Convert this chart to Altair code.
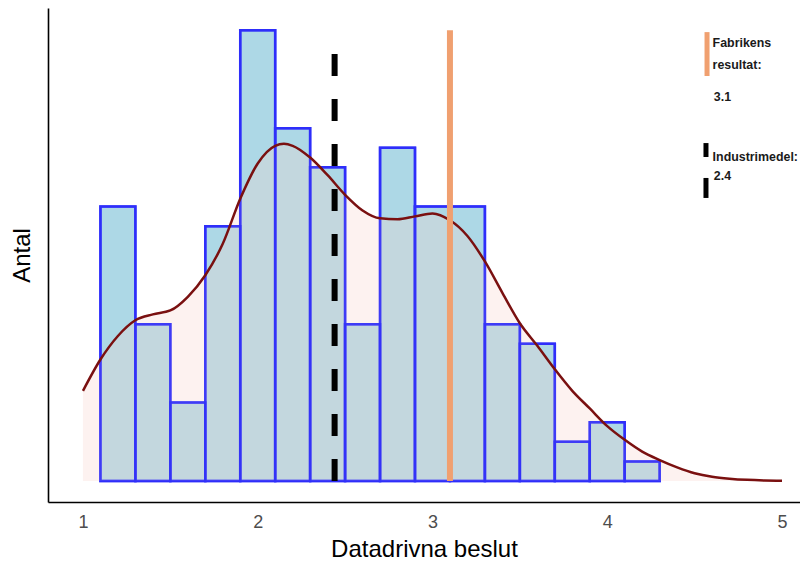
import altair as alt
import pandas as pd

# Histogram bins (start of each 0.2-wide bin) and counts
bin_start = [1.1, 1.3, 1.5, 1.7, 1.9, 2.1, 2.3, 2.5, 2.7, 2.9, 3.1, 3.3, 3.5, 3.7, 3.9, 4.1]
counts = [14, 8, 4, 13, 23, 18, 16, 8, 17, 14, 14, 8, 7, 2, 3, 1]
bin_width = 0.2

# Density curve, scaled to counts
kde_x = [1.0, 1.1, 1.2, 1.3, 1.4, 1.5, 1.6, 1.7, 1.8, 1.9, 2.0, 2.1, 2.15, 2.2, 2.3, 2.4,
         2.5, 2.6, 2.7, 2.8, 2.9, 3.0, 3.1, 3.2, 3.3, 3.4, 3.5, 3.6, 3.7, 3.8, 3.9, 4.0,
         4.1, 4.2, 4.3, 4.4, 4.5, 4.6, 4.7, 4.8, 4.9, 5.0]
kde_y = [4.6, 6.2, 7.4, 8.2, 8.5, 8.7, 9.4, 10.5, 12.1, 14.4, 16.2, 17.1, 17.2, 17.1, 16.5, 15.6,
         14.6, 13.8, 13.4, 13.35, 13.5, 13.65, 13.3, 12.5, 11.2, 9.6, 8.05, 6.9, 5.7, 4.6, 3.7, 2.8,
         2.1, 1.5, 1.07, 0.7, 0.4, 0.22, 0.12, 0.06, 0.03, 0.02]

industry_mean = 2.44
factory_result = 3.1
industry_label = "2.4"
factory_label = "3.1"

x_domain = [0.8, 5.103]
y_domain = [-1.07, 24.13]

hist_df = pd.DataFrame({
    "start": bin_start,
    "end": [s + bin_width for s in bin_start],
    "count": counts,
})
hist_df["zero"] = 0
kde_df = pd.DataFrame({"x": kde_x, "y": kde_y})

xs = alt.Scale(domain=x_domain, nice=False, zero=False)
ys = alt.Scale(domain=y_domain, nice=False, zero=False)

x_axis = alt.Axis(values=[1, 2, 3, 4, 5], format="d", ticks=False, grid=False, labelFontSize=18,
                  labelColor="#4d4d4d", labelPadding=11, domainColor="black", domainWidth=1.6,
                  title="Datadrivna beslut", titleFontSize=24, titleFontWeight="normal",
                  titleColor="black", titlePadding=6, labelFont="Liberation Sans",
                  titleFont="Liberation Sans")
y_axis = alt.Axis(labels=False, ticks=False, grid=False, domainColor="black", domainWidth=1.6,
                  title="Antal", titleFontSize=24, titleFontWeight="normal", titleColor="black",
                  titlePadding=14, titleFont="Liberation Sans")

bars_fill = alt.Chart(hist_df).mark_rect(fill="#ADD8E6", stroke="#2b2bff", strokeWidth=2.5).encode(
    x=alt.X("start:Q", scale=xs, axis=x_axis),
    x2="end:Q",
    y=alt.Y("zero:Q", scale=ys, axis=y_axis),
    y2="count:Q",
)
bars_outline = alt.Chart(hist_df).mark_rect(
    fillOpacity=0, stroke="#3030f8", strokeOpacity=0.75, strokeWidth=2.5
).encode(
    x=alt.X("start:Q", scale=xs),
    x2="end:Q",
    y=alt.Y("zero:Q", scale=ys),
    y2="count:Q",
)

area = alt.Chart(kde_df).mark_area(fill="#f8d4cd", opacity=0.3, interpolate="monotone").encode(
    x=alt.X("x:Q", scale=xs),
    y=alt.Y("y:Q", scale=ys),
    y2=alt.datum(0),
)
line = alt.Chart(kde_df).mark_line(color="#7a1010", strokeWidth=2.5, interpolate="monotone").encode(
    x=alt.X("x:Q", scale=xs),
    y=alt.Y("y:Q", scale=ys),
)

vlines_df = pd.DataFrame({"x": [industry_mean], "top": [21.9], "bottom": [0]})
dashed = alt.Chart(vlines_df).mark_rule(color="black", strokeWidth=6, strokeDash=[22, 23]).encode(
    x=alt.X("x:Q", scale=xs), y=alt.Y("bottom:Q", scale=ys), y2="top:Q"
)
orange_df = pd.DataFrame({"x": [factory_result], "top": [23.0], "bottom": [0]})
orange = alt.Chart(orange_df).mark_rule(color="#F0A070", strokeWidth=6).encode(
    x=alt.X("x:Q", scale=xs), y=alt.Y("bottom:Q", scale=ys), y2="top:Q"
)

# Legend-like annotations
leg_bars_df = pd.DataFrame({
    "x": [4.571, 4.565, 4.565],
    "y": [22.9, 17.24, 15.46],
    "y2": [20.66, 16.53, 14.44],
    "c": ["#F0A070", "black", "black"],
})
leg_bars = alt.Chart(leg_bars_df).mark_rule(strokeWidth=5).encode(
    x=alt.X("x:Q", scale=xs), y=alt.Y("y:Q", scale=ys), y2="y2:Q",
    color=alt.Color("c:N", scale=None),
)
leg_text_df = pd.DataFrame({
    "x": [4.603, 4.603, 4.61, 4.603, 4.61],
    "y": [22.35, 21.22, 19.59, 16.53, 15.56],
    "t": ["Fabrikens", "resultat:", factory_label, "Industrimedel:", industry_label],
})
leg_text = alt.Chart(leg_text_df).mark_text(
    align="left", baseline="middle", fontSize=12.4, fontWeight="bold",
    font="Liberation Sans", color="#1a1a1a"
).encode(x=alt.X("x:Q", scale=xs), y=alt.Y("y:Q", scale=ys), text="t:N")

chart = alt.layer(bars_fill, area, bars_outline, line, dashed, orange, leg_bars, leg_text).properties(
    width=752, height=494,
    autosize=alt.AutoSizeParams(type="none"),
    padding={"left": 40, "top": 0, "right": 0, "bottom": 66},
).configure_view(stroke=None)

chart.save("out.html", embed_options={"renderer": "svg", "actions": False})
